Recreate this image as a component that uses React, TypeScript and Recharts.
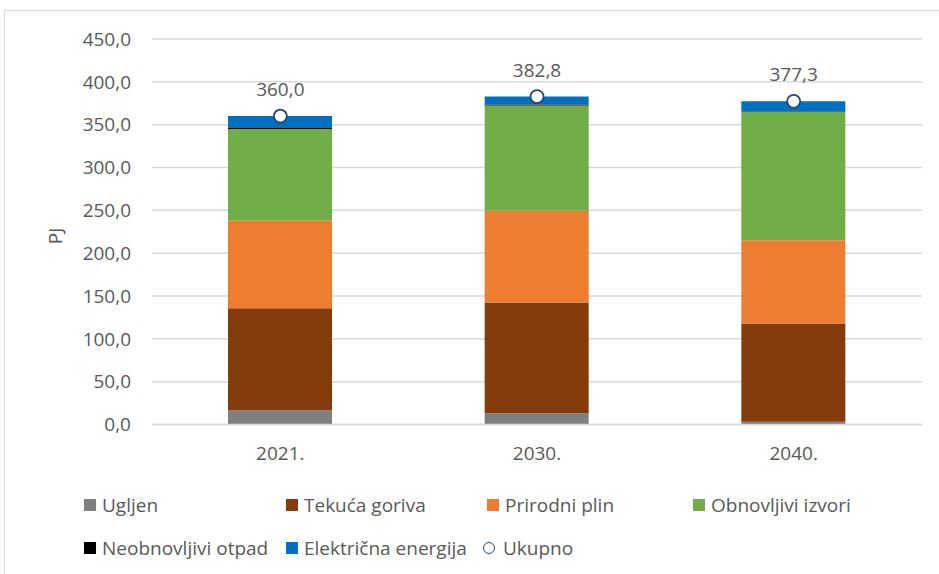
import { Bar, ComposedChart, Line, LabelList, XAxis, YAxis, CartesianGrid } from "recharts";

const years = ["2021.", "2030.", "2040."];
const ugljen = [16.6, 13.1, 3.3];
const tekucaGoriva = [119.1, 129.4, 114.5];
const prirodniPlin = [102.4, 106.9, 97.4];
const obnovljivi = [106.8, 123.0, 149.5];
const neobnovljiviOtpad = [1.1, 1.2, 0.8];
const elektricna = [14.0, 9.2, 11.8];
const ukupno = [360.0, 382.8, 377.3];
const yTicks = [0, 50, 100, 150, 200, 250, 300, 350, 400, 450];

const data = years.map((year, i) => ({
  year,
  ugljen: ugljen[i],
  tekuca: tekucaGoriva[i],
  plin: prirodniPlin[i],
  obnovljivi: obnovljivi[i],
  otpad: neobnovljiviOtpad[i],
  elektricna: elektricna[i],
  ukupno: ukupno[i],
}));

const FONT = "'Open Sans', sans-serif";
const TEXT = "#595959";
const fmt = (v: number) => Number(v).toFixed(1).replace(".", ",");

const legendItems = [
  { label: "Ugljen", color: "#7F7F7F", x: 84, y: 505 },
  { label: "Tekuća goriva", color: "#843C0C", x: 286, y: 505 },
  { label: "Prirodni plin", color: "#ED7D31", x: 487, y: 505 },
  { label: "Obnovljivi izvori", color: "#70AD47", x: 693, y: 505 },
  { label: "Neobnovljivi otpad", color: "#000000", x: 84, y: 548 },
  { label: "Električna energija", color: "#0070C0", x: 286, y: 548 },
  { label: "Ukupno", color: "", x: 483, y: 548 },
];

const PJLabel = () => (
  <text x={57} y={236} transform="rotate(-90, 57, 236)" textAnchor="middle" dominantBaseline="middle"
    fill={TEXT} fontSize={19} fontFamily={FONT}>
    PJ
  </text>
);

export default function App() {
  return (
    <div style={{ position: "fixed", left: 0, top: 0, width: 939, height: 574, overflow: "hidden", background: "#fff", fontFamily: FONT }}>
      <div style={{ position: "absolute", left: 4, top: 10, width: 980, height: 620, border: "1.5px solid #d9d9d9" }} />
      <ComposedChart width={939} height={574} data={data} margin={{ top: 39, right: 17, bottom: 119.5, left: 0 }}>
        <CartesianGrid vertical={false} stroke="#d9d9d9" strokeWidth={1.5} />
        <XAxis
          dataKey="year"
          height={30}
          axisLine={{ stroke: "#d9d9d9", strokeWidth: 1.5 }}
          tickLine={false}
          tickMargin={16}
          tick={{ fill: TEXT, fontSize: 19, fontFamily: FONT }}
        />
        <YAxis
          width={152}
          domain={[0, 450]}
          ticks={yTicks}
          axisLine={false}
          tickLine={false}
          tickMargin={15}
          tickFormatter={fmt}
          tick={{ fill: TEXT, fontSize: 19, fontFamily: FONT }}
          label={<PJLabel />}
        />
        <Bar dataKey="ugljen" stackId="a" fill="#7F7F7F" barSize={104} isAnimationActive={false} />
        <Bar dataKey="tekuca" stackId="a" fill="#843C0C" barSize={104} isAnimationActive={false} />
        <Bar dataKey="plin" stackId="a" fill="#ED7D31" barSize={104} isAnimationActive={false} />
        <Bar dataKey="obnovljivi" stackId="a" fill="#70AD47" barSize={104} isAnimationActive={false} />
        <Bar dataKey="otpad" stackId="a" fill="#000000" barSize={104} isAnimationActive={false} />
        <Bar dataKey="elektricna" stackId="a" fill="#0070C0" barSize={104} isAnimationActive={false} />
        <Line
          dataKey="ukupno"
          stroke="none"
          isAnimationActive={false}
          dot={{ r: 6.5, fill: "#fff", stroke: "#264478", strokeWidth: 1.8 }}
          activeDot={false}
        >
          <LabelList dataKey="ukupno" position="top" offset={20} formatter={fmt}
            style={{ fill: TEXT, fontSize: 19, fontFamily: FONT }} />
        </Line>
      </ComposedChart>
      {legendItems.map((it) => (
        <div key={it.label} style={{ position: "absolute", left: it.x, top: it.y - 14, height: 28, display: "flex", alignItems: "center", color: TEXT, fontSize: 19, whiteSpace: "nowrap" }}>
          {it.color ? (
            <span style={{ width: 12, height: 12, background: it.color, marginRight: 6, display: "inline-block" }} />
          ) : (
            <span style={{ width: 10, height: 10, borderRadius: "50%", border: "1.5px solid #264478", marginRight: 8, display: "inline-block" }} />
          )}
          {it.label}
        </div>
      ))}
    </div>
  );
}
